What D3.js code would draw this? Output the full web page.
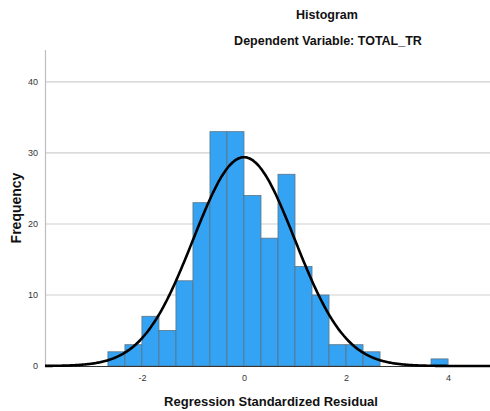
<!DOCTYPE html>
<html>
<head>
<meta charset="utf-8">
<script src="https://cdn.jsdelivr.net/npm/d3@7"></script>
<style>
  html, body { margin: 0; padding: 0; background: #fff; }
  svg { display: block; font-family: Arial, "Liberation Sans", sans-serif; }
</style>
</head>
<body>
<svg id="chart" width="490" height="411"></svg>
<script>
// Histogram bins of the standardized residuals (bin width 1/3)
const binStarts = [-8, -7, -6, -5, -4, -3, -2, -1, 0, 1, 2, 3, 4, 5, 6, 7, 11].map(k => k / 3);
const binWidth = 1 / 3;
const frequencies = [2, 3, 7, 5, 12, 23, 33, 33, 24, 18, 27, 14, 10, 3, 3, 2, 1];
const xTicks = [-2, 0, 2, 4];
const yTicks = [0, 10, 20, 30, 40];
const curveMean = 0;
const curveSd = 0.995;
const totalN = 220;

const svg = d3.select("#chart");
const plot = { left: 45, right: 495, top: 50, bottom: 366 };

const x = d3.scaleLinear().domain([-3.9, 4.92]).range([plot.left, plot.right]);
const y = d3.scaleLinear().domain([0, 44.5]).range([plot.bottom, plot.top]);

// horizontal gridlines
svg.append("g")
  .selectAll("line")
  .data(yTicks.filter(d => d > 0))
  .join("line")
  .attr("x1", plot.left).attr("x2", 490)
  .attr("y1", d => y(d)).attr("y2", d => y(d))
  .attr("stroke", "#cfcfcf").attr("stroke-width", 1.2);

// bars
const bins = binStarts.map((s, i) => ({ x0: s, x1: s + binWidth, n: frequencies[i] }));
svg.append("g")
  .selectAll("rect")
  .data(bins)
  .join("rect")
  .attr("x", d => x(d.x0))
  .attr("y", d => y(d.n))
  .attr("width", d => x(d.x1) - x(d.x0))
  .attr("height", d => y(0) - y(d.n))
  .attr("fill", "#35a3f3")
  .attr("stroke", "#5b7384")
  .attr("stroke-width", 0.8);

// left axis line
svg.append("line")
  .attr("x1", plot.left + 0.5).attr("x2", plot.left + 0.5)
  .attr("y1", plot.top).attr("y2", plot.bottom)
  .attr("stroke", "#bdbdbd").attr("stroke-width", 1.2);

// bottom axis line
svg.append("line")
  .attr("x1", plot.left).attr("x2", 490)
  .attr("y1", plot.bottom + 0.5).attr("y2", plot.bottom + 0.5)
  .attr("stroke", "#333").attr("stroke-width", 1);

// fitted normal curve
const norm = v => totalN * binWidth * Math.exp(-0.5 * ((v - curveMean) / curveSd) ** 2) / (curveSd * Math.sqrt(2 * Math.PI));
const curvePts = d3.range(-3.9, 4.95, 0.02);
svg.append("path")
  .datum(curvePts)
  .attr("d", d3.line().x(d => x(d)).y(d => y(norm(d))).curve(d3.curveBasis))
  .attr("fill", "none")
  .attr("stroke", "#000")
  .attr("stroke-width", 2.6);

// y tick labels
const yAxis = d3.axisLeft(y).tickValues(yTicks).tickSize(0).tickPadding(7);
const gy = svg.append("g").attr("transform", `translate(${plot.left},0)`).call(yAxis);
gy.select(".domain").remove();
gy.selectAll("text").attr("font-size", 9).attr("fill", "#333").attr("font-family", "Arial, 'Liberation Sans', sans-serif");

// x tick labels (plain hyphen for negatives)
const xAxis = d3.axisBottom(x).tickValues(xTicks).tickSize(0).tickPadding(9).tickFormat(d => String(d));
const gx = svg.append("g").attr("transform", `translate(0,${plot.bottom})`).call(xAxis);
gx.select(".domain").remove();
gx.selectAll("text").attr("font-size", 9).attr("fill", "#333").attr("font-family", "Arial, 'Liberation Sans', sans-serif");

// titles
svg.append("text").attr("x", 327).attr("y", 19)
  .attr("text-anchor", "middle").attr("font-size", 12.5).attr("font-weight", "bold").attr("fill", "#111")
  .text("Histogram");
svg.append("text").attr("x", 328).attr("y", 45)
  .attr("text-anchor", "middle").attr("font-size", 12.5).attr("font-weight", "bold").attr("fill", "#111")
  .text("Dependent Variable: TOTAL_TR");

// axis titles
svg.append("text").attr("x", 271).attr("y", 406)
  .attr("text-anchor", "middle").attr("font-size", 13).attr("font-weight", "bold").attr("fill", "#111")
  .text("Regression Standardized Residual");
svg.append("text")
  .attr("transform", "translate(21,208) rotate(-90)")
  .attr("text-anchor", "middle").attr("font-size", 14).attr("font-weight", "bold").attr("fill", "#111")
  .text("Frequency");
</script>
</body>
</html>
